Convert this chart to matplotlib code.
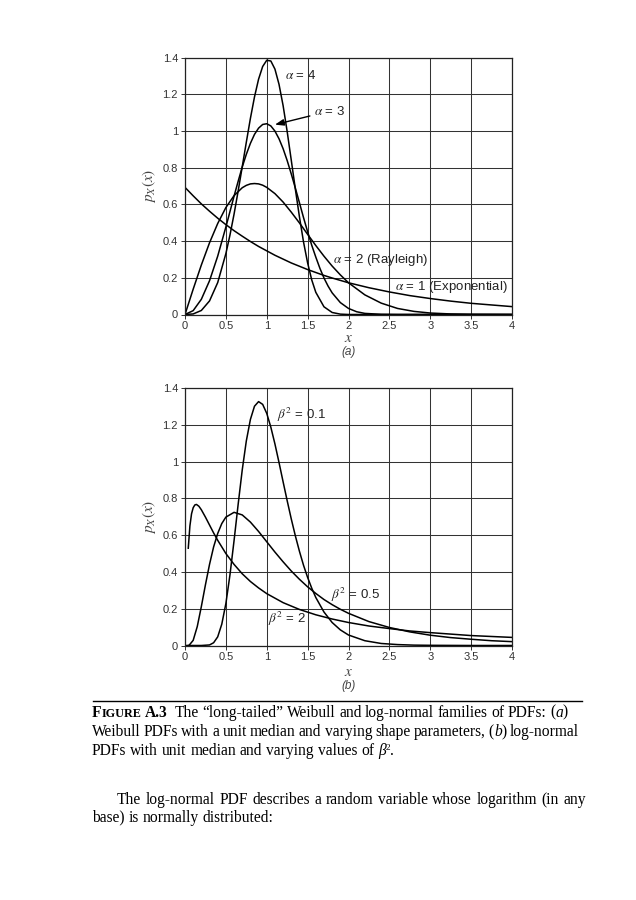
import matplotlib
matplotlib.use("Agg")
import matplotlib.pyplot as plt

plt.rcParams["font.family"] = ["Liberation Sans", "DejaVu Sans"]
plt.rcParams["mathtext.fontset"] = "stix"

# ---- (a) Weibull PDFs, unit median ----
a1_x = [0, 0.1, 0.2, 0.3, 0.4, 0.5, 0.6, 0.7, 0.8, 0.9, 1.0, 1.1, 1.2, 1.3, 1.4, 1.5, 1.6, 1.7, 1.8, 1.9, 2.0,
        2.25, 2.5, 2.75, 3.0, 3.25, 3.5, 3.75, 4.0]
a1_y = [0.693, 0.647, 0.603, 0.563, 0.525, 0.490, 0.457, 0.427, 0.398, 0.371, 0.347, 0.323, 0.302, 0.281, 0.263,
        0.245, 0.229, 0.213, 0.199, 0.186, 0.173, 0.146, 0.123, 0.103, 0.087, 0.073, 0.061, 0.052, 0.043]

a2_x = [0, 0.1, 0.2, 0.3, 0.4, 0.5, 0.6, 0.7, 0.75, 0.8, 0.85, 0.9, 0.95, 1.0, 1.1, 1.2, 1.3, 1.4, 1.5, 1.6,
        1.7, 1.8, 1.9, 2.0, 2.2, 2.4, 2.6, 2.8, 3.0, 3.25, 3.5, 4.0]
a2_y = [0, 0.138, 0.270, 0.391, 0.496, 0.583, 0.648, 0.691, 0.704, 0.712, 0.714, 0.712, 0.705, 0.693, 0.659,
        0.613, 0.558, 0.499, 0.437, 0.376, 0.318, 0.264, 0.216, 0.173, 0.107, 0.062, 0.033, 0.017, 0.008,
        0.003, 0.001, 0.0]

a3_x = [0, 0.1, 0.2, 0.3, 0.4, 0.5, 0.6, 0.65, 0.7, 0.75, 0.8, 0.85, 0.9, 0.95, 1.0, 1.05, 1.1, 1.15, 1.2,
        1.25, 1.3, 1.35, 1.4, 1.45, 1.5, 1.55, 1.6, 1.65, 1.7, 1.75, 1.8, 1.9, 2.0, 2.1, 2.2, 2.4, 2.6, 3.0, 4.0]
a3_y = [0, 0.021, 0.083, 0.184, 0.318, 0.477, 0.645, 0.726, 0.804, 0.873, 0.933, 0.982, 1.016, 1.036, 1.040,
        1.028, 1.000, 0.958, 0.904, 0.839, 0.766, 0.689, 0.609, 0.528, 0.451, 0.378, 0.313, 0.252, 0.199,
        0.155, 0.118, 0.065, 0.033, 0.015, 0.006, 0.001, 0.0, 0.0, 0.0]

a4_x = [0, 0.1, 0.2, 0.3, 0.4, 0.5, 0.55, 0.6, 0.65, 0.7, 0.75, 0.8, 0.85, 0.9, 0.95, 1.0, 1.05, 1.1, 1.15,
        1.2, 1.25, 1.3, 1.35, 1.4, 1.45, 1.5, 1.55, 1.6, 1.7, 1.8, 1.9, 2.0, 2.5, 4.0]
a4_y = [0, 0.003, 0.022, 0.074, 0.174, 0.332, 0.433, 0.547, 0.673, 0.805, 0.939, 1.069, 1.186, 1.283, 1.352,
        1.386, 1.382, 1.338, 1.255, 1.139, 0.997, 0.841, 0.683, 0.532, 0.395, 0.281, 0.189, 0.121, 0.042,
        0.011, 0.002, 0.0, 0.0, 0.0]

# ---- (b) log-normal PDFs, unit median ----
b01_x = [0.05, 0.2, 0.3, 0.35, 0.4, 0.45, 0.5, 0.55, 0.6, 0.65, 0.7, 0.75, 0.8, 0.85, 0.9, 0.95, 1.0, 1.05,
         1.1, 1.15, 1.2, 1.25, 1.3, 1.35, 1.4, 1.45, 1.5, 1.55, 1.6, 1.7, 1.8, 1.9, 2.0, 2.2, 2.4, 2.6, 2.8,
         3.0, 3.5, 4.0]
b01_y = [0, 0.0, 0.003, 0.015, 0.047, 0.116, 0.228, 0.384, 0.570, 0.767, 0.954, 1.112, 1.229, 1.301, 1.326,
         1.311, 1.262, 1.187, 1.096, 0.995, 0.890, 0.787, 0.688, 0.596, 0.512, 0.436, 0.370, 0.312, 0.261,
         0.182, 0.125, 0.085, 0.057, 0.026, 0.011, 0.005, 0.002, 0.001, 0.0, 0.0]

b05_x = [0.02, 0.05, 0.1, 0.15, 0.2, 0.25, 0.3, 0.35, 0.4, 0.45, 0.5, 0.6, 0.7, 0.8, 0.9, 1.0, 1.1, 1.2, 1.3,
         1.4, 1.5, 1.6, 1.7, 1.8, 1.9, 2.0, 2.25, 2.5, 2.75, 3.0, 3.25, 3.5, 3.75, 4.0]
b05_y = [0, 0.001, 0.028, 0.103, 0.212, 0.330, 0.441, 0.536, 0.609, 0.663, 0.698, 0.724, 0.710, 0.671, 0.620,
         0.564, 0.508, 0.455, 0.405, 0.360, 0.319, 0.283, 0.250, 0.222, 0.197, 0.175, 0.130, 0.098, 0.074,
         0.056, 0.043, 0.034, 0.026, 0.021]

b2_x = [0.04, 0.06, 0.08, 0.1, 0.12, 0.14, 0.17, 0.2, 0.25, 0.3, 0.35, 0.4, 0.5, 0.6, 0.7, 0.8, 0.9, 1.0, 1.2,
        1.4, 1.6, 1.8, 2.0, 2.25, 2.5, 2.75, 3.0, 3.5, 4.0]
b2_y = [0.529, 0.650, 0.716, 0.749, 0.764, 0.767, 0.757, 0.738, 0.698, 0.655, 0.612, 0.572, 0.500, 0.441,
        0.390, 0.348, 0.313, 0.282, 0.233, 0.196, 0.167, 0.144, 0.125, 0.106, 0.092, 0.079, 0.070, 0.054, 0.044]

xticks = [0, 0.5, 1, 1.5, 2, 2.5, 3, 3.5, 4]
xtick_labels = ["0", "0.5", "1", "1.5", "2", "2.5", "3", "3.5", "4"]
yticks = [0, 0.2, 0.4, 0.6, 0.8, 1.0, 1.2, 1.4]
ytick_labels = ["0", "0.2", "0.4", "0.6", "0.8", "1", "1.2", "1.4"]

W, H = 636, 900
fig = plt.figure(figsize=(W / 100, H / 100), dpi=100)
fig.patch.set_facecolor("white")


def px(x, y):
    return x / W, 1 - y / H


def panel(top, bottom, tag, tag_gap, xl_pad):
    l, b = px(185, bottom)
    ax = fig.add_axes([l, b, 327 / W, (bottom - top) / H])
    ax.set_xlim(0, 4); ax.set_ylim(0, 1.4)
    ax.set_xticks(xticks); ax.set_xticklabels(xtick_labels)
    ax.set_yticks(yticks); ax.set_yticklabels(ytick_labels)
    ax.tick_params(direction="out", length=3, width=0.7, labelsize=8, pad=2, colors="#333")
    ax.grid(True, color="#333", lw=0.75)
    for s in ax.spines.values():
        s.set_linewidth(0.9); s.set_color("#222")
    ax.set_ylabel("$p_X(x)$", fontsize=11, color="#444", labelpad=3)
    ax.set_xlabel("$x$", fontsize=11, color="#444", labelpad=xl_pad)
    fig.text(*px(348.5, bottom + tag_gap), tag, ha="center", va="center", fontsize=8.5, style="italic",
             color="#444")
    return ax


kw = dict(color="black", lw=1.1)
ax = panel(57.7, 314.5, "(a)", 37, 0)
ax.plot(a1_x, a1_y, **kw)
ax.plot(a2_x, a2_y, **kw)
ax.plot(a3_x, a3_y, **kw)
ax.plot(a4_x, a4_y, **kw)
tk = dict(fontsize=9.5, va="center", ha="left", color="#222")
ax.text(1.22, 1.305, r"$\alpha$ = 4", **tk)
ax.annotate(r"$\alpha$ = 3", xy=(1.10, 1.035), xytext=(1.578, 1.109), **tk,
            arrowprops=dict(arrowstyle="-|>,head_length=0.55,head_width=0.2", color="black", lw=1.0,
                            shrinkA=1, shrinkB=0))
ax.text(1.81, 0.295, r"$\alpha$ = 2 (Rayleigh)", **tk)
ax.text(2.57, 0.149, r"$\alpha$ = 1 (Exponential)", **tk)

ax = panel(388, 645.5, "(b)", 40, 1.5)
ax.plot(b01_x, b01_y, **kw)
ax.plot(b05_x, b05_y, **kw)
ax.plot(b2_x, b2_y, **kw)
ax.text(1.12, 1.253, r"$\beta^2$ = 0.1", **tk)
ax.text(1.78, 0.274, r"$\beta^2$ = 0.5", **tk)
ax.text(1.02, 0.147, r"$\beta^2$ = 2", **tk)

# ---- caption and body text (justified by hand) ----
fig.add_artist(plt.Line2D([93 / W, 582 / W], [1 - 701 / H] * 2, color="black", lw=1.0))
renderer = fig.canvas.get_renderer()
serif = ["Liberation Serif", "DejaVu Serif"]
SIZE = 11.2


def line_words(words, x0, y, x1=None, size=SIZE):
    # words: list of list of (text, extra props); justify between x0 and x1 if given
    arts = []
    for w in words:
        segs = []
        for txt, extra in w:
            extra = dict(extra)
            dy = extra.pop("dy", 0)
            props = dict(fontsize=size, family=serif, color="black", va="baseline", ha="left")
            props.update(extra)
            t = fig.text(0, 0, txt, **props)
            segs.append((t, t.get_window_extent(renderer).width, dy))
        arts.append(segs)
    widths = [sum(s[1] for s in segs) for segs in arts]
    space = 0.25 * size * 100 / 72
    if x1 is not None and len(arts) > 1:
        space = (x1 - x0 - sum(widths)) / (len(arts) - 1)
    x = x0
    for segs in arts:
        for t, sw, dy in segs:
            t.set_position(px(x, y - dy))
            x += sw
        x += space


def plain(s):
    return [[(w, {})] for w in s.split(" ")]


it = {"style": "italic"}
bold = {"weight": "bold"}
head = [[("F", bold), ("IGURE", dict(weight="bold", fontsize=SIZE * 0.78))], [("A.3", bold)], [("", {})]]
line_words(head + plain("The “long-tailed” Weibull and log-normal families of PDFs:")
           + [[("(", {}), ("a", it), (")", {})]], 92, 716.7, 568)
line_words(plain("Weibull PDFs with a unit median and varying shape parameters,")
           + [[("(", {}), ("b", it), (")", {})]] + plain("log-normal"), 92, 736, 579)
line_words(plain("PDFs with unit median and varying values of")
           + [[("β", it), ("2", dict(fontsize=SIZE * 0.6, dy=5)), (".", {})]], 92, 755)
line_words(plain("The log-normal PDF describes a random variable whose logarithm (in any"), 117, 804, 586)
line_words(plain("base) is normally distributed:"), 92, 821.5)

fig.savefig("out.png", dpi=100, facecolor="white")
